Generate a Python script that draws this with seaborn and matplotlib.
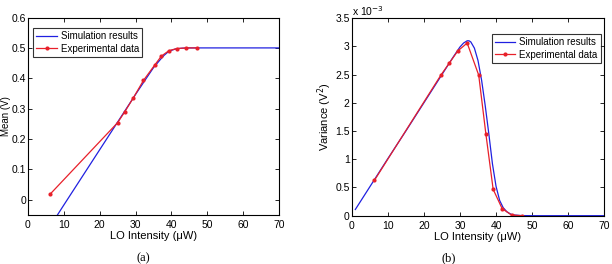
import numpy as np
import pandas as pd
import matplotlib
matplotlib.use("Agg")
import matplotlib.pyplot as plt
import seaborn as sns
from matplotlib.ticker import FuncFormatter

# (a) mean output vs LO intensity
sim_x_mean = [7, 8.2, 10, 15, 20, 25, 30, 33, 35, 37, 38, 39, 40, 41, 42, 43, 45, 50, 60, 70]
sim_y_mean = [-0.072, -0.05, -0.017, 0.074, 0.165, 0.256, 0.347, 0.40, 0.435, 0.463, 0.476, 0.486, 0.492, 0.496, 0.498, 0.499, 0.5, 0.5, 0.5, 0.5]
exp_x_mean = [6.2, 25, 27, 29.3, 32.2, 35.3, 37.2, 39.3, 41.6, 44.2, 47]
exp_y_mean = [0.019, 0.254, 0.29, 0.334, 0.393, 0.443, 0.473, 0.491, 0.498, 0.5, 0.5]

# (b) variance (x 1e-3 V^2) vs LO intensity
sim_x_var = [1, 5, 10, 15, 20, 25, 28, 30, 31, 32, 32.5, 33, 34, 35, 36, 37, 38, 39, 40, 41, 42, 43, 44, 45, 47, 50, 70]
sim_y_var = [0.11, 0.51, 1.01, 1.5, 2.0, 2.5, 2.8, 2.99, 3.06, 3.1, 3.1, 3.08, 2.97, 2.75, 2.4, 1.95, 1.45, 0.92, 0.52, 0.27, 0.14, 0.07, 0.03, 0.012, 0.002, 0.0, 0.0]
exp_x_var = [6.3, 24.8, 27.0, 29.4, 32.0, 35.2, 37.2, 39.2, 41.7, 44.3, 47.2]
exp_y_var = [0.627, 2.50, 2.70, 2.92, 3.06, 2.49, 1.44, 0.467, 0.124, 0.012, 0.0]

plt.rcParams["font.family"] = ["Liberation Sans", "DejaVu Sans"]
plt.rcParams["font.size"] = 7.5
plt.rcParams["xtick.direction"] = "in"
plt.rcParams["ytick.direction"] = "in"

fig = plt.figure(figsize=(6.12, 2.64), dpi=100)
ax1 = fig.add_axes([28 / 612, 0.1856, 251 / 612, 0.748])
ax2 = fig.add_axes([0.5747, 0.183, 0.4127, 0.748])

def draw(ax, sx, sy, ex, ey):
    sns.lineplot(x=sx, y=sy, ax=ax, color="#2020e0", lw=0.9, label="Simulation results", sort=False)
    sns.lineplot(x=ex, y=ey, ax=ax, color="#e8202a", lw=0.9, marker="o", markersize=3,
                 markeredgewidth=0, label="Experimental data", sort=False)
    ax.set_xlim(0, 70)
    ax.set_xticks(range(0, 71, 10))
    ax.tick_params(top=True, right=True, length=3, width=0.6, labelsize=7.5)
    ax.tick_params(axis="y", pad=1.5)
    for s in ax.spines.values():
        s.set_linewidth(0.8)
    ax.set_xlabel("LO Intensity (\u03bcW)", fontsize=8, labelpad=1)
    ax.yaxis.set_major_formatter(FuncFormatter(lambda v, p: "%g" % round(v, 3)))

def legend(ax, loc, anchor):
    leg = ax.legend(loc=loc, bbox_to_anchor=anchor, fontsize=7, frameon=True,
                    fancybox=False, edgecolor="black", handlelength=2.1, borderpad=0.35,
                    labelspacing=0.25, handletextpad=0.4, borderaxespad=0)
    leg.get_frame().set_linewidth(0.8)

draw(ax1, sim_x_mean, sim_y_mean, exp_x_mean, exp_y_mean)
ax1.set_ylim(-0.05, 0.6)
ax1.set_yticks(np.arange(0, 0.61, 0.1))
ax1.set_ylabel("Mean (V)", fontsize=7)
ax1.yaxis.set_label_coords(-0.068, 0.5)
legend(ax1, "upper left", (0.02, 0.947))

draw(ax2, sim_x_var, sim_y_var, exp_x_var, exp_y_var)
ax2.set_ylim(0, 3.5)
ax2.set_yticks(np.arange(0, 3.51, 0.5))
ax2.set_ylabel("Variance (V$^2$)", fontsize=8)
ax2.yaxis.set_label_coords(-0.070, 0.5)
ax2.text(0.0, 1.0, "x 10$^{-3}$", transform=ax2.transAxes, fontsize=7.5, va="bottom", ha="left")
legend(ax2, "upper right", (0.987, 0.920))

fig.text(143 / 612, 1 - 258 / 264, "(a)", family=["Liberation Serif", "DejaVu Serif"], fontsize=9, ha="center", va="center")
fig.text(449 / 612, 1 - 258 / 264, "(b)", family=["Liberation Serif", "DejaVu Serif"], fontsize=9, ha="center", va="center")

fig.savefig("out.png", dpi=100)
